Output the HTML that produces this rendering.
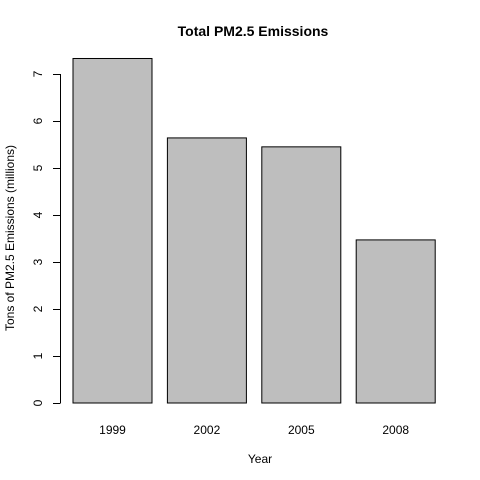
<!DOCTYPE html>
<html><head><meta charset="utf-8"><style>body{margin:0;background:#fff}svg{display:block;font-family:"Liberation Sans",Arial,sans-serif}</style></head>
<body>
<svg id="chart" width="480" height="480">
<rect width="480" height="480" fill="#fff"/>
<text x="253" y="36" text-anchor="middle" font-weight="bold" font-size="14">Total PM2.5 Emissions</text>
<text x="260" y="463" text-anchor="middle" font-size="12">Year</text>
<text transform="translate(14,238) rotate(-90)" text-anchor="middle" font-size="12">Tons of PM2.5 Emissions (millions)</text>
<g id="bars"></g><g id="yaxis"></g><g id="xlabels"></g>
</svg>
<script>
const categories = ["1999","2002","2005","2008"];
const values = [7.33, 5.64, 5.45, 3.47];
const yTicks = [0,1,2,3,4,5,6,7];
const ns="http://www.w3.org/2000/svg";
function y(v){return 403 - v*47;}
function x(i){return 73 + i*94.4;}
const bw=79;
const bars=document.getElementById('bars');
values.forEach((v,i)=>{
  const r=document.createElementNS(ns,'rect');
  r.setAttribute('x',x(i));r.setAttribute('y',y(v));r.setAttribute('width',bw);r.setAttribute('height',y(0)-y(v));
  r.setAttribute('fill','#bebebe');r.setAttribute('stroke','#000');r.setAttribute('stroke-width','1');
  
  
  bars.appendChild(r);
  const t=document.createElementNS(ns,'text');
  t.setAttribute('x',x(i)+bw/2);t.setAttribute('y',434);t.setAttribute('text-anchor','middle');t.setAttribute('font-size','12');
  t.textContent=categories[i];
  
  
  document.getElementById('xlabels').appendChild(t);
});
const ya=document.getElementById('yaxis');
const ax=document.createElementNS(ns,'line');
ax.setAttribute('x1',60.5);ax.setAttribute('x2',60.5);ax.setAttribute('y1',y(0));ax.setAttribute('y2',y(yTicks[yTicks.length-1]));ax.setAttribute('stroke','#000');


ya.appendChild(ax);
yTicks.forEach(v=>{
  const l=document.createElementNS(ns,'line');
  l.setAttribute('x1',53);l.setAttribute('x2',60.5);l.setAttribute('y1',y(v)+0.5);l.setAttribute('y2',y(v)+0.5);l.setAttribute('stroke','#000');
  
  
  ya.appendChild(l);
  const t=document.createElementNS(ns,'text');
  t.setAttribute('transform','translate(42,'+y(v)+') rotate(-90)');t.setAttribute('text-anchor','middle');t.setAttribute('font-size','12');
  t.textContent=v;
  
  
  ya.appendChild(t);
});
</script>
</body></html>
